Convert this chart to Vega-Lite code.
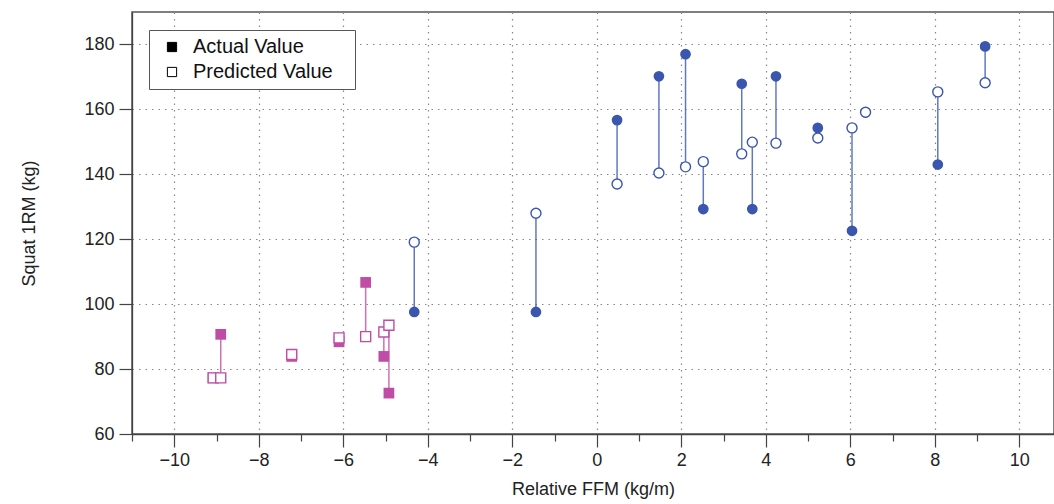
{
  "$schema": "https://vega.github.io/schema/vega-lite/v6.json",
  "width": 922,
  "height": 422,
  "autosize": "none",
  "padding": {"left": 132, "top": 12, "right": 0, "bottom": 70},
  "background": "white",
  "config": {
    "font": "Liberation Sans",
    "view": {"stroke": "#555", "strokeWidth": 1.5},
    "axis": {
      "domainColor": "#444",
      "domainWidth": 1.3,
      "tickColor": "#444",
      "tickWidth": 1.2,
      "labelFontSize": 18,
      "labelColor": "#222",
      "titleFontSize": 18,
      "titleFontWeight": "normal",
      "titleColor": "#222",
      "gridColor": "#888",
      "gridDash": [1.5, 5],
      "gridWidth": 1.2
    }
  },
  "datasets": {
    "subjects": [
      {"group": "pink", "ffm": -9.08, "actual": 77.3, "predicted": 77.3},
      {"group": "pink", "ffm": -8.9, "actual": 90.7, "predicted": 77.3},
      {"group": "pink", "ffm": -7.22, "actual": 83.9, "predicted": 84.5},
      {"group": "pink", "ffm": -6.1, "actual": 88.4, "predicted": 89.6},
      {"group": "pink", "ffm": -5.47, "actual": 106.7, "predicted": 90.0},
      {"group": "pink", "ffm": -5.04, "actual": 83.9, "predicted": 91.4},
      {"group": "pink", "ffm": -4.92, "actual": 72.6, "predicted": 93.5},
      {"group": "blue", "ffm": -4.32, "actual": 97.6, "predicted": 119.1},
      {"group": "blue", "ffm": -1.44, "actual": 97.6, "predicted": 128.0},
      {"group": "blue", "ffm": 0.48, "actual": 156.7, "predicted": 137.0},
      {"group": "blue", "ffm": 1.47, "actual": 170.2, "predicted": 140.4},
      {"group": "blue", "ffm": 2.1, "actual": 177.0, "predicted": 142.3},
      {"group": "blue", "ffm": 2.52, "actual": 129.3, "predicted": 143.9},
      {"group": "blue", "ffm": 3.43, "actual": 167.9, "predicted": 146.3},
      {"group": "blue", "ffm": 3.68, "actual": 129.3, "predicted": 149.9},
      {"group": "blue", "ffm": 4.24, "actual": 170.2, "predicted": 149.6},
      {"group": "blue", "ffm": 5.23, "actual": 154.3, "predicted": 151.2},
      {"group": "blue", "ffm": 6.04, "actual": 122.6, "predicted": 154.3},
      {"group": "blue", "ffm": 6.36, "actual": 159.1, "predicted": 159.1},
      {"group": "blue", "ffm": 8.07, "actual": 143.0, "predicted": 165.4},
      {"group": "blue", "ffm": 9.19, "actual": 179.4, "predicted": 168.2}
    ],
    "keys": [
      {"kind": "Actual Value"},
      {"kind": "Predicted Value"}
    ]
  },
  "layer": [
    {
      "data": {"name": "subjects"},
      "mark": {"type": "rule", "strokeWidth": 1.5, "strokeOpacity": 0.8},
      "encoding": {
        "x": {
          "field": "ffm", "type": "quantitative",
          "scale": {"domain": [-11, 10.82], "nice": false, "zero": false},
          "axis": {
            "title": "Relative FFM (kg/m)",
            "values": [-11, -10, -9, -8, -7, -6, -5, -4, -3, -2, -1, 0, 1, 2, 3, 4, 5, 6, 7, 8, 9, 10],
            "labelExpr": "datum.value % 2 === 0 ? datum.label : ''",
            "tickSize": {"condition": {"test": "datum.value % 2 === 0", "value": 13}, "value": 7},
            "gridOpacity": {"condition": {"test": "datum.value % 2 === 0", "value": 1}, "value": 0},
            "labelPadding": 4,
            "titlePadding": 11,
            "labelFlush": false,
            "labelOverlap": false
          }
        },
        "y": {
          "field": "actual", "type": "quantitative",
          "scale": {"domain": [60, 190], "nice": false, "zero": false},
          "axis": {
            "title": "Squat 1RM (kg)",
            "values": [60, 70, 80, 90, 100, 110, 120, 130, 140, 150, 160, 170, 180, 190],
            "labelExpr": "datum.value % 20 === 0 ? datum.label : ''",
            "tickSize": {"condition": {"test": "datum.value % 20 === 0", "value": 13}, "value": 7},
            "gridOpacity": {"condition": {"test": "datum.value % 20 === 0 && datum.value > 60", "value": 1}, "value": 0},
            "labelPadding": 5,
            "titlePadding": 45,
            "labelFlush": false,
            "labelOverlap": false
          }
        },
        "y2": {"field": "predicted"},
        "stroke": {
          "field": "group", "type": "nominal",
          "scale": {"domain": ["blue", "pink"], "range": ["#3a56ae", "#c04ca6"]},
          "legend": null
        }
      }
    },
    {
      "data": {"name": "subjects"},
      "mark": {"type": "point", "filled": true, "size": 115, "opacity": 1},
      "encoding": {
        "x": {"field": "ffm", "type": "quantitative"},
        "y": {"field": "actual", "type": "quantitative"},
        "shape": {
          "field": "group", "type": "nominal",
          "scale": {"domain": ["blue", "pink"], "range": ["circle", "square"]},
          "legend": null
        },
        "fill": {
          "field": "group", "type": "nominal",
          "scale": {"domain": ["blue", "pink"], "range": ["#3a56ae", "#c04ca6"]},
          "legend": null
        }
      }
    },
    {
      "data": {"name": "subjects"},
      "mark": {"type": "point", "filled": false, "fill": "white", "fillOpacity": 1, "strokeWidth": 1.4, "size": 100, "opacity": 1},
      "encoding": {
        "x": {"field": "ffm", "type": "quantitative"},
        "y": {"field": "predicted", "type": "quantitative"},
        "shape": {"field": "group", "type": "nominal", "legend": null},
        "stroke": {"field": "group", "type": "nominal", "legend": null}
      }
    },
    {
      "data": {"name": "keys"},
      "mark": {"type": "square", "size": 0},
      "encoding": {
        "color": {
          "field": "kind", "type": "nominal",
          "scale": {"domain": ["Actual Value", "Predicted Value"], "range": ["black", "white"]},
          "legend": {
            "title": null,
            "orient": "none",
            "legendX": 17,
            "legendY": 18,
            "padding": 7,
            "fillColor": "white",
            "strokeColor": "#555",
            "symbolType": "square",
            "symbolSize": 85,
            "symbolStrokeColor": "black",
            "symbolStrokeWidth": 1,
            "symbolOpacity": 1,
            "symbolOffset": 6,
            "labelOffset": 11,
            "labelFontSize": 20,
            "labelLimit": 400,
            "labelColor": "#111",
            "rowPadding": 5,
            "labelExpr": "datum.label + '\u2800'"
          }
        }
      }
    }
  ]
}
